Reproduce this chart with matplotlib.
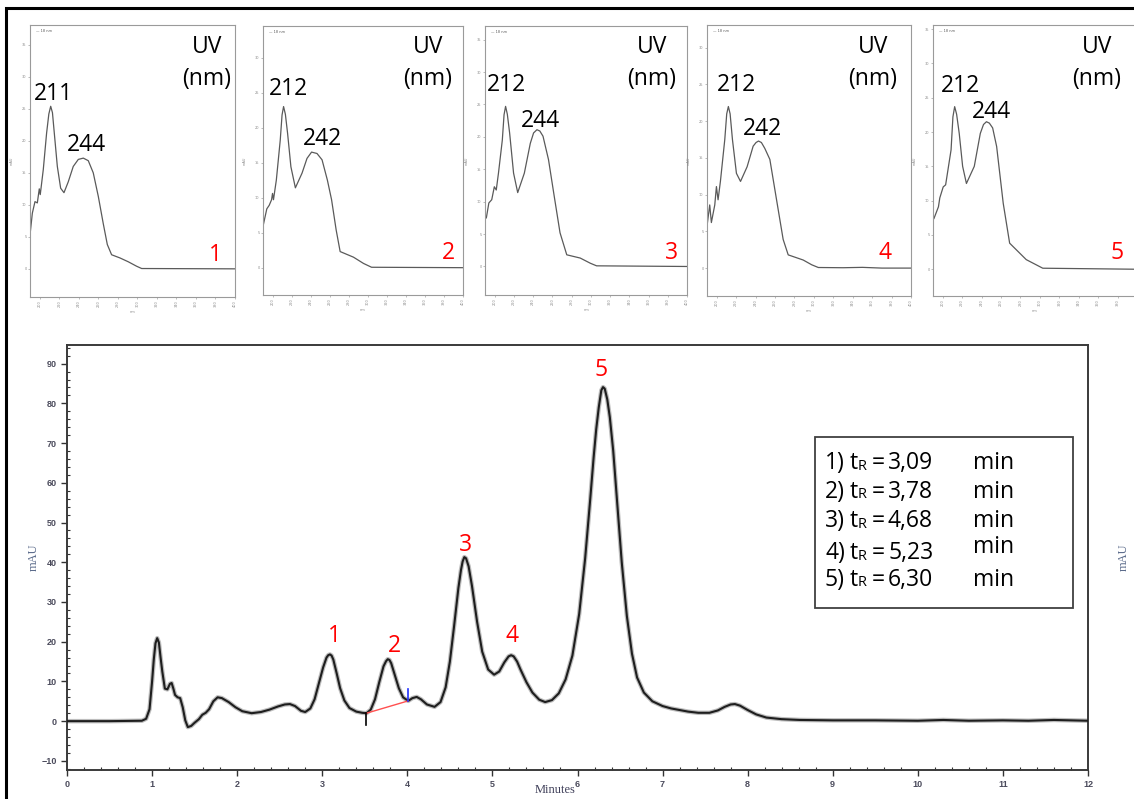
import matplotlib
matplotlib.use("Agg")
import matplotlib.pyplot as plt
from matplotlib.patches import Rectangle
import numpy as np

# ---------------- data ----------------
time_min = [0.00, 0.50, 0.88, 0.93, 0.97, 1.00, 1.02, 1.04, 1.06, 1.08, 1.10, 1.12, 1.15, 1.18,
            1.21, 1.23, 1.25, 1.27, 1.30, 1.33, 1.36, 1.39, 1.42, 1.46, 1.50, 1.55, 1.59, 1.63,
            1.67, 1.72, 1.77, 1.82, 1.90, 1.98, 2.06, 2.17, 2.28, 2.38, 2.48, 2.56, 2.62, 2.68,
            2.75, 2.80, 2.86, 2.91, 2.96, 3.01, 3.05, 3.07, 3.09, 3.11, 3.13, 3.17, 3.21, 3.26,
            3.32, 3.40, 3.47, 3.52, 3.57, 3.62, 3.67, 3.72, 3.75, 3.77, 3.79, 3.81, 3.85, 3.90,
            3.95, 4.01, 4.06, 4.11, 4.16, 4.23, 4.32, 4.39, 4.45, 4.50, 4.55, 4.60, 4.63, 4.65,
            4.67, 4.69, 4.72, 4.76, 4.82, 4.88, 4.95, 5.02, 5.08, 5.14, 5.19, 5.22, 5.25, 5.29,
            5.33, 5.40, 5.47, 5.55, 5.62, 5.70, 5.78, 5.86, 5.94, 6.02, 6.09, 6.15, 6.19, 6.22,
            6.25, 6.28, 6.30, 6.32, 6.35, 6.38, 6.42, 6.47, 6.52, 6.58, 6.64, 6.70, 6.78, 6.88,
            7.00, 7.10, 7.20, 7.30, 7.42, 7.55, 7.65, 7.73, 7.80, 7.85, 7.91, 8.00, 8.10, 8.22,
            8.40, 8.61, 9.00, 9.50, 10.00, 10.30, 10.60, 11.00, 11.30, 11.60, 12.00]
signal_mau = [0.0, 0.0, 0.1, 0.6, 3.0, 10.0, 15.5, 19.6, 20.9, 19.8, 16.0, 12.5, 8.2, 8.0,
              9.4, 9.6, 8.2, 6.6, 6.0, 5.8, 3.5, 0.2, -1.5, -1.2, -0.4, 0.5, 1.6, 2.1,
              3.0, 5.0, 6.0, 5.8, 4.8, 3.5, 2.5, 2.0, 2.3, 2.9, 3.7, 4.2, 4.3, 3.8,
              2.6, 2.3, 3.2, 5.5, 9.5, 13.5, 16.0, 16.6, 16.8, 16.5, 15.5, 12.0, 8.3, 5.2,
              3.3, 2.4, 2.1, 2.0, 2.9, 5.5, 9.8, 13.8, 15.1, 15.6, 15.4, 14.6, 11.8, 8.3,
              6.0, 5.1, 5.8, 6.1, 5.5, 4.2, 3.6, 4.8, 8.5, 15.0, 24.0, 33.5, 38.0, 40.2,
              41.3, 41.0, 39.0, 34.0, 25.0, 17.5, 13.0, 11.7, 12.5, 14.8, 16.3, 16.6, 16.3, 15.0,
              13.0, 9.8, 7.2, 5.4, 4.8, 5.3, 7.0, 10.5, 16.5, 27.0, 41.0, 56.0, 66.5, 73.5,
              79.0, 83.3, 84.1, 83.7, 81.0, 76.5, 68.0, 54.0, 40.0, 26.5, 17.0, 11.0, 7.2, 5.0,
              3.8, 3.2, 2.8, 2.4, 2.1, 2.1, 2.7, 3.6, 4.2, 4.3, 3.9, 2.8, 1.7, 0.9,
              0.5, 0.3, 0.2, 0.2, 0.1, 0.3, 0.1, 0.2, 0.1, 0.3, 0.1]

peak_ids = ["1", "2", "3", "4", "5"]
peak_rt = [3.09, 3.78, 4.68, 5.23, 6.30]
peak_height = [16.8, 15.6, 41.3, 16.6, 84.1]
peak_label_rt = ["3,09", "3,78", "4,68", "5,23", "6,30"]

baseline_t = [3.52, 4.01]
baseline_y = [2.0, 5.1]

x_ticks = [0, 1, 2, 3, 4, 5, 6, 7, 8, 9, 10, 11, 12]
y_ticks = [-10, 0, 10, 20, 30, 40, 50, 60, 70, 80, 90]

uv1_nm = [190, 192.4, 195.1, 197.5, 199.5, 200.5, 203.6, 207, 209.3, 211.2, 213, 214.6, 218, 221.4,
          224.8, 229.2, 234.3, 239.5, 244.6, 249.7, 254.8, 260, 265, 269.2, 273.6, 282.2, 290.7,
          299.3, 304.4, 400]
uv1_abs = [5.3, 8.7, 10.5, 10.3, 12.5, 11.6, 15.5, 21.2, 24.2, 25.4, 24.4, 21.7, 16.0, 12.6,
           11.9, 13.6, 16.0, 17.1, 17.3, 16.9, 15.0, 11.3, 7.1, 3.8, 2.2, 1.7, 1.1,
           0.4, 0.05, 0.0]
uv2_nm = [190, 194, 196.5, 199, 200, 201, 204, 208.1, 210, 211.6, 213.5, 215.8, 219.3, 224, 231,
          236.2, 241, 246.7, 252, 257.6, 262, 266.8, 271, 285, 295.6, 304, 400]
uv2_abs = [5.9, 8.4, 8.9, 9.7, 10.6, 9.7, 12.5, 18.2, 21.8, 23.0, 21.9, 19.2, 14.4, 11.4, 13.5,
           15.6, 16.5, 16.3, 15.4, 12.5, 9.7, 5.4, 2.3, 1.5, 0.6, 0.06, 0.0]
uv3_nm = [191.4, 194, 197, 199.7, 201.7, 204, 208, 209.8, 211.4, 213.2, 215.6, 219.7, 224, 230.9,
          237.1, 240.5, 244, 247, 250.3, 256, 262, 268, 275, 289, 299.5, 306, 400]
uv3_abs = [7.5, 9.8, 10.3, 12.3, 11.8, 14.4, 19.5, 23.4, 24.7, 23.5, 20.6, 14.4, 11.4, 14.4,
           19.0, 20.6, 21.1, 20.9, 20.1, 16.5, 10.8, 5.2, 1.8, 1.3, 0.5, 0.1, 0.0]
uv4_nm = [190, 192.8, 194.5, 198, 199.7, 201.4, 203.8, 208.3, 210.3, 212, 213.8, 216.2, 220.3, 224.5,
          231.3, 237.5, 240.5, 243, 246, 249.5, 254.7, 261.6, 268.4, 273.6, 289, 297.8, 304.6,
          330, 350, 370, 400]
uv4_abs = [5.7, 8.6, 6.2, 8.6, 11.1, 9.3, 11.8, 17.5, 21.0, 22.0, 21.0, 17.5, 12.9, 11.8,
           13.8, 16.6, 17.1, 17.3, 17.1, 16.3, 14.8, 9.3, 3.9, 1.8, 1.1, 0.45, 0.08,
           0.05, 0.1, 0.0, 0.0]
uv5_nm = [191, 195.6, 197, 200.5, 203, 208.6, 210.5, 212.3, 214.3, 217, 220.5, 224.4, 232.5, 238.7,
          242, 245, 248, 251.4, 255.5, 262.3, 268.9, 286, 303, 400]
uv5_abs = [7.4, 9.1, 10.4, 12.0, 12.3, 17.4, 22.2, 23.7, 22.6, 19.8, 15.0, 12.5, 15.0, 19.8,
           21.1, 21.5, 21.3, 20.6, 17.9, 9.6, 3.8, 1.4, 0.15, 0.0]

uv_nm = [uv1_nm, uv2_nm, uv3_nm, uv4_nm, uv5_nm]
uv_abs = [uv1_abs, uv2_abs, uv3_abs, uv4_abs, uv5_abs]
uv_max1 = ["211", "212", "212", "212", "212"]
uv_max2 = ["244", "242", "244", "242", "244"]
uv_xticks = [200, 220, 240, 260, 280, 300, 320, 340, 360, 380, 400]

# ---------------- layout ----------------
W, H = 1134, 799
fig = plt.figure(figsize=(W / 100, H / 100), dpi=100)
fig.patch.set_facecolor("white")


def fx(x):
    return x / W


def fy(y):
    return 1 - y / H


def axes_px(l, r, t, b):
    return [fx(l), fy(b), (r - l) / W, (b - t) / H]


TXT = ["Open Sans", "DejaVu Sans"]
FS = 16.5

# outer frame
fig.patches.append(Rectangle((fx(6), fy(806)), (1140 - 6) / W, (806 - 8) / H,
                             transform=fig.transFigure, fill=False, edgecolor="black",
                             linewidth=2.2, zorder=0))

# ---------------- UV panels ----------------
uv_boxes = [(30, 235, 25, 297), (263, 463, 26, 295), (485, 687, 26, 295),
            (707, 911, 25, 296), (933, 1137, 25, 296)]
uv_ylims = [(-4.4, 38.1), (-3.9, 34.5), (-4.4, 37.1), (-3.8, 33.1), (-3.9, 35.6)]
lab1_px = [(53, 94), (288, 89), (507, 85), (737, 85), (961, 86)]
lab2_px = [(86, 145), (322, 139), (540, 121), (763, 129), (991, 112)]
uv_text_px = [207, 428, 652, 873, 1097]
num_px = [(215, 255), (448, 253), (671, 253), (885, 253), (1117, 253)]

for i in range(5):
    l, r, t, b = uv_boxes[i]
    ax = fig.add_axes(axes_px(l, r, t, b))
    ax.plot(uv_nm[i], uv_abs[i], color="#5a5a5a", lw=0.9, solid_joinstyle="round")
    ax.set_xlim(190, 400)
    ax.set_ylim(*uv_ylims[i])
    ax.set_xticks(uv_xticks)
    ax.set_yticks(np.arange(0, uv_ylims[i][1], 5))
    ax.tick_params(labelsize=2.5, length=1.5, width=0.4, colors="#8a8a8a", pad=1)
    for lab in ax.get_xticklabels():
        lab.set_rotation(90)
    if i == 4:
        ax.get_xticklabels()[-1].set_visible(False)
    for s in ax.spines.values():
        s.set_color("#9a9a9a")
        s.set_linewidth(0.8)
    ax.set_xlabel("nm", fontsize=2.5, color="#8a8a8a", labelpad=2)
    ax.set_ylabel("mAU", fontsize=2.5, color="#8a8a8a", labelpad=6)
    ax.text(0.03, 0.985, "\u2014 18 nm", transform=ax.transAxes, fontsize=2.5,
            color="#555555", va="top", ha="left")
    fig.text(fx(lab1_px[i][0]), fy(lab1_px[i][1]), uv_max1[i], fontsize=FS,
             family=TXT, ha="center", va="center", color="black")
    fig.text(fx(lab2_px[i][0]), fy(lab2_px[i][1]), uv_max2[i], fontsize=FS,
             family=TXT, ha="center", va="center", color="black")
    fig.text(fx(uv_text_px[i]), fy(47), "UV", fontsize=FS, family=TXT,
             ha="center", va="center", color="black")
    fig.text(fx(uv_text_px[i]), fy(79), "(nm)", fontsize=FS, family=TXT,
             ha="center", va="center", color="black")
    fig.text(fx(num_px[i][0]), fy(num_px[i][1]), peak_ids[i], fontsize=FS,
             family=TXT, ha="center", va="center", color="#ff0000")

# ---------------- chromatogram ----------------
ax = fig.add_axes(axes_px(67, 1088, 345, 770))
ax.plot(time_min, signal_mau, color="#bdbdbd", lw=3.2, solid_joinstyle="round", zorder=2)
ax.plot(time_min, signal_mau, color="#1e1e1e", lw=1.5, solid_joinstyle="round", zorder=3)
ax.set_xlim(0, 12)
ax.set_ylim(-12.3, 94.7)
ax.set_xticks(x_ticks)
ax.set_yticks(y_ticks)
ax.set_xticks(np.arange(0, 12.01, 0.2), minor=True)
ax.set_yticks(np.arange(-12, 94.7, 2), minor=True)
tick_col = "#4b4b5c"
ax.tick_params(axis="both", which="major", labelsize=6.5, length=4, width=1.0,
               colors="#333333", labelcolor=tick_col, direction="out")
ax.tick_params(axis="y", which="both", right=True, labelright=True)
ax.tick_params(axis="both", which="minor", length=2.2, width=0.8, colors="#333333",
               direction="in")
for lab in ax.get_xticklabels() + ax.get_yticklabels():
    lab.set_fontweight("bold")
    lab.set_family("Liberation Sans")
for s in ax.spines.values():
    s.set_color("#3a3a3a")
    s.set_linewidth(1.4)

ax.set_xlabel("Minutes", family="Liberation Serif", fontsize=9, color="#40405a",
              va="center")
ax.xaxis.set_label_coords(0.478, -0.047)
ax.set_ylabel("mAU", family="Liberation Serif", fontsize=9, color="#5a6a8a",
              va="center", ha="center")
ax.yaxis.set_label_coords(-0.033, 0.5)
ax2 = ax.twinx()
ax2.set_ylim(ax.get_ylim())
ax2.set_yticks([])
ax2.spines[:].set_visible(False)
ax2.set_ylabel("mAU", family="Liberation Serif", fontsize=9, color="#5a6a8a", rotation=90,
               va="center", ha="center")
ax2.yaxis.set_label_coords(1.035, 0.5)

# integration baseline for peak 2
ax.plot(baseline_t, baseline_y, color="#ff5050", lw=1.0, zorder=4)
ax.plot([baseline_t[0], baseline_t[0]], [baseline_y[0], baseline_y[0] - 3.0],
        color="black", lw=1.2, zorder=4)
ax.plot([baseline_t[1], baseline_t[1]], [baseline_y[1], baseline_y[1] + 3.0],
        color="#2030ff", lw=1.2, zorder=4)

# peak numbers
label_offsets = [(3, 13), (4, 9.5), (0, 8.5), (0, 13.5), (-1.5, 12.5)]
for pid, rt, h, off in zip(peak_ids, peak_rt, peak_height, label_offsets):
    ax.annotate(pid, (rt, h), xytext=off, textcoords="offset points", ha="center",
                va="center", fontsize=FS, family=TXT, color="#ff0000", zorder=5)

# retention time box
ax.add_patch(Rectangle((8.79, 28.5), 11.82 - 8.79, 71.5 - 28.5, fill=False,
                       edgecolor="#404040", lw=1.3, zorder=5))
row_y = [463, 492, 521, 551, 580]
for i, (pid, rt) in enumerate(zip(peak_ids, peak_label_rt)):
    yy = row_y[i]
    dn = 2 if i == 3 else 0
    fig.text(fx(825), fy(yy + dn), pid + ")", fontsize=FS, family=TXT, ha="left",
             va="center", color="black")
    fig.text(fx(850), fy(yy + dn), "t", fontsize=FS, family=TXT, ha="left",
             va="center", color="black")
    fig.text(fx(857.5), fy(yy + dn + 3), "R", fontsize=10.5, family=TXT, ha="left",
             va="center", color="black")
    fig.text(fx(872), fy(yy + dn), "=", fontsize=FS, family=TXT, ha="left",
             va="center", color="black")
    fig.text(fx(888), fy(yy + dn), rt, fontsize=FS, family=TXT, ha="left",
             va="center", color="black")
    fig.text(fx(973), fy(yy - (4 if i == 3 else 0)), "min", fontsize=FS, family=TXT,
             ha="left", va="center", color="black")

fig.savefig("out.png", dpi=100, facecolor="white")
